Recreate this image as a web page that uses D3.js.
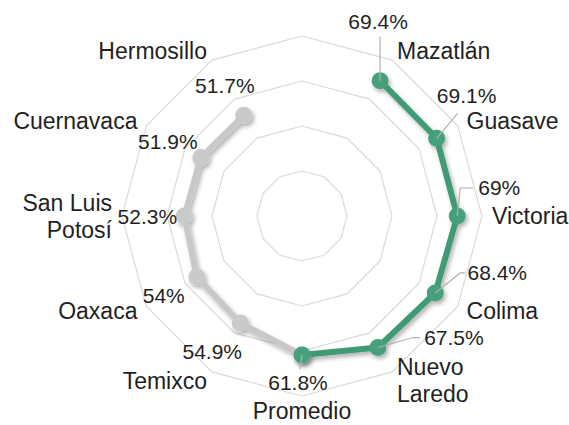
<!DOCTYPE html>
<html>
<head>
<meta charset="utf-8">
<script src="https://cdn.jsdelivr.net/npm/d3@7"></script>
<style>
  body { margin: 0; background: #fff; }
  svg { display: block; font-family: "Liberation Sans", Arial, sans-serif; }
</style>
</head>
<body>
<svg width="569" height="425"></svg>
<script>
// categories around the radar, clockwise from the top (first axis has no label)
const categories = ["", "Mazatlán", "Guasave", "Victoria", "Colima", "Nuevo Laredo",
  "Promedio", "Temixco", "Oaxaca", "San Luis Potosí", "Cuernavaca", "Hermosillo"];

// top cities (green) and bottom cities (gray), both share "Promedio"
const topCities = ["Mazatlán", "Guasave", "Victoria", "Colima", "Nuevo Laredo", "Promedio"];
const topValues = [69.4, 69.1, 69, 68.4, 67.5, 61.8];
const bottomCities = ["Promedio", "Temixco", "Oaxaca", "San Luis Potosí", "Cuernavaca", "Hermosillo"];
const bottomValues = [61.8, 54.9, 54, 52.3, 51.9, 51.7];

const gridTicks = [20, 40, 60, 80];

// label placement (offsets from each point)
const topLabelOffset = [[-2, -59], [30, -43], [42, -28], [62, -20], [76, -10], [-4, 28]];
const topLeader = [
  [[0, 0], [0, -44]],
  [[0, 0], [21, -25]],
  [[0, 0], [3, -28], [16, -28]],
  [[0, 0], [25, -20], [30, -20]],
  [[0, 0], [35, -10], [42, -10]],
  [[0, 0], [-2, 14]]
];
const bottomLabelOffset = [null, [-28, 29], [-33, 19], [-37, 1], [-33, -16], [-19, -30]];

const svg = d3.select("svg");
const cx = 302, cy = 216, R = 180;
const textColor = "#1f1f1f";

const r = d3.scaleLinear().domain([0, 80]).range([0, R]);
const angle = d3.scalePoint().domain(categories).range([0, 2 * Math.PI * 11 / 12]);

function pos(cat, v) {
  const a = angle(cat);
  return [cx + r(v) * Math.sin(a), cy - r(v) * Math.cos(a)];
}

const defs = svg.append("defs");
defs.append("filter").attr("id", "shadow")
  .attr("x", "-20%").attr("y", "-20%").attr("width", "140%").attr("height", "140%")
  .append("feDropShadow")
  .attr("dx", 2).attr("dy", 3).attr("stdDeviation", 2)
  .attr("flood-color", "#000").attr("flood-opacity", 0.3);

// grid polygons
svg.append("g").selectAll("path")
  .data(gridTicks)
  .enter()
  .append("path")
  .attr("d", t => d3.line()(categories.map(c => pos(c, t))) + "Z")
  .attr("fill", "none")
  .attr("stroke", "#d9d9d9")
  .attr("stroke-width", 1.2);

// category labels
const labelG = svg.append("g")
  .attr("font-size", "23px")
  .attr("fill", textColor);

categories.forEach(c => {
  if (!c) return;
  const a = angle(c);
  const [x, y] = [cx + (R + 10) * Math.sin(a), cy - (R + 10) * Math.cos(a)];
  const sin = Math.sin(a);
  const anchor = Math.abs(sin) < 0.01 ? "middle" : sin > 0 ? "start" : "end";
  let lines = [c];
  if (c === "San Luis Potosí") lines = ["San Luis", "Potosí"];
  if (c === "Nuevo Laredo") lines = ["Nuevo", "Laredo"];
  const t = labelG.append("text")
    .attr("text-anchor", anchor)
    .attr("x", x)
    .attr("y", y);
  const lh = 27;
  let startDy;
  if (anchor === "middle") startDy = 13;
  else startDy = 8 - (lines.length - 1) * lh / 2;
  lines.forEach((ln, i) => {
    t.append("tspan")
      .attr("x", x)
      .attr("dy", i === 0 ? startDy : lh)
      .text(ln);
  });
});

function drawSeries(cats, vals, lineColor, dotColor) {
  const pts = cats.map((c, i) => pos(c, vals[i]));
  const g = svg.append("g").attr("filter", "url(#shadow)");
  g.append("path")
    .attr("d", d3.line()(pts))
    .attr("fill", "none")
    .attr("stroke", lineColor)
    .attr("stroke-width", 6)
    .attr("stroke-linejoin", "round");
  g.selectAll("circle")
    .data(pts)
    .enter()
    .append("circle")
    .attr("cx", d => d[0])
    .attr("cy", d => d[1])
    .attr("r", 8.5)
    .attr("fill", dotColor);
  return pts;
}

const bottomPts = drawSeries(bottomCities, bottomValues, "#c8c8c8", "#cacaca");
const topPts = drawSeries(topCities, topValues, "#3f9a74", "#47a07b");

// leader lines for the green series
topPts.forEach((p, i) => {
  svg.append("path")
    .attr("d", d3.line()(topLeader[i].map(o => [p[0] + o[0], p[1] + o[1]])))
    .attr("fill", "none")
    .attr("stroke", "#b0b0b0")
    .attr("stroke-width", 1.2);
});

const fmt = v => v + "%";
const valG = svg.append("g")
  .attr("font-size", "21px")
  .attr("fill", textColor)
  .attr("text-anchor", "middle");

topPts.forEach((p, i) => {
  valG.append("text")
    .attr("x", p[0] + topLabelOffset[i][0])
    .attr("y", p[1] + topLabelOffset[i][1])
    .attr("dy", "0.35em")
    .text(fmt(topValues[i]));
});
bottomPts.forEach((p, i) => {
  if (!bottomLabelOffset[i]) return;
  valG.append("text")
    .attr("x", p[0] + bottomLabelOffset[i][0])
    .attr("y", p[1] + bottomLabelOffset[i][1])
    .attr("dy", "0.35em")
    .text(fmt(bottomValues[i]));
});
</script>
</body>
</html>
